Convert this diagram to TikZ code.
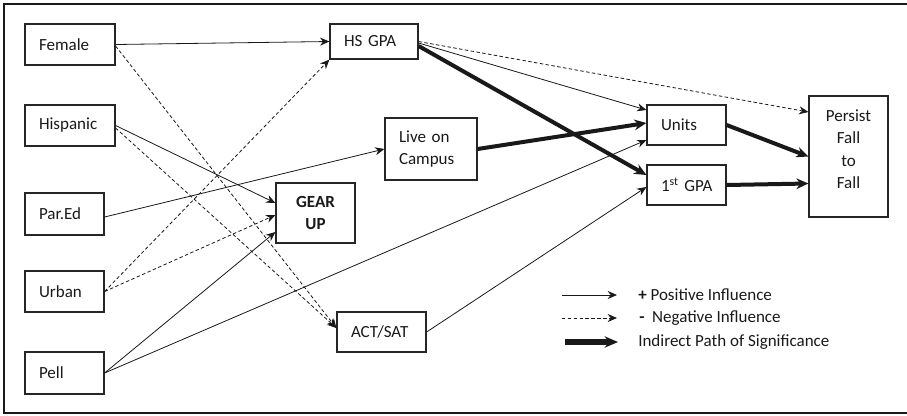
\documentclass[tikz,border=0pt]{standalone}
\usepackage{fontspec}
\setmainfont{Carlito}
\usetikzlibrary{arrows.meta,calc}
\begin{document}
\begin{tikzpicture}[x=0.75pt,y=-0.75pt,
  font=\fontsize{12.75}{16.9}\selectfont,
  every node/.style={text=black!90},
  lbox/.style={draw=black!85, line width=0.9pt, inner xsep=10.5pt, inner ysep=0pt, align=left, text width=#1},
  cbox/.style={draw=black!85, line width=0.9pt, inner sep=0pt, align=center},
  posarr/.style={draw=black!90, line width=0.6pt, -{Stealth[length=7pt,width=6pt]}},
  negarr/.style={posarr, dash pattern=on 2.6pt off 1.8pt},
  sigarr/.style={draw=black!90, line width=3pt, -{Stealth[length=9pt,width=8pt]}}
]
\useasboundingbox (0,0) rectangle (907,415);
\draw[line width=1.5pt, black!90] (912,3.5) -- (3.5,3.5) -- (3.5,412.5) -- (912,412.5);

% left column
\node[lbox=46.5pt, minimum height=30.75pt] (female)   at (70,44.5)   {Female};
\node[lbox=46.5pt, minimum height=30.75pt] (hispanic) at (70,125.5)  {Hispanic};
\node[lbox=38.25pt, minimum height=31.5pt] (pared)    at (64.5,214)  {Par.Ed};
\node[lbox=38.25pt, minimum height=30.75pt] (urban)   at (64.5,291.5){Urban};
\node[lbox=38.25pt, minimum height=31.5pt] (pell)     at (64.5,373)  {Pell};

% middle
\node[lbox=45pt, minimum height=26.25pt] (hsgpa) at (374,41.5) {HS~GPA};
\node[lbox=48pt, minimum height=46.5pt] (live) at (431,149) {Live on\\Campus};
\node[cbox, minimum width=59.25pt, minimum height=45pt, font=\fontsize{12.75}{16}\selectfont\bfseries] (gear) at (315.5,213) {GEAR\\UP};
\node[lbox=45.75pt, minimum height=30pt] (act) at (381.5,332) {ACT/SAT};

% right
\node[lbox=38.25pt, minimum height=30pt] (units) at (686.5,125) {Units};
\node[lbox=38.25pt, minimum height=30pt] (gpa1) at (686.5,185) {\mbox{1\textsuperscript{st}~GPA}};
\node[cbox, minimum width=59.25pt, minimum height=90.75pt] (persist) at (848.5,156.5) {};
\node[align=center, anchor=north, inner sep=0pt] (persisttxt) at ($(persist.north)+(0,14)$) {Persist\\Fall\\to\\Fall};

% connectors
\draw[posarr] (female.east) -- (hsgpa.west);
\draw[negarr] ($(female.east)+(0,1.5)$) -- ($(act.west)+(0,-4)$);
\draw[negarr] ($(hispanic.east)+(0,2.5)$) -- ($(act.west)+(0,-4)$);
\draw[posarr] (hispanic.east) -- ($(gear.west)+(0,-10)$);
\draw[posarr] ($(pared.east)+(0,3)$) -- (live.west);
\draw[negarr] (urban.east) -- (hsgpa.south west);
\draw[negarr] (urban.east) -- ($(gear.west)+(0,2)$);
\draw[posarr] (pell.east) -- ($(gear.west)+(0,19)$);
\draw[posarr] (pell.east) -- ($(units.west)+(0,15)$);
\draw[posarr] ($(hsgpa.east)+(0,1.5)$) -- ($(units.west)+(0,-15)$);
\draw[negarr] ($(hsgpa.east)+(0,0)$) -- ($(persist.west)+(0,-44.5)$);
\draw[sigarr] ($(hsgpa.east)+(0,4.5)$) -- ($(gpa1.west)+(0,-10)$);
\draw[sigarr] (live.east) -- ($(units.west)+(0,-2)$);
\draw[posarr] (act.east) -- ($(gpa1.west)+(0,2)$);
\draw[sigarr] (units.east) -- (persist.west);
\draw[sigarr] (gpa1.east) -- ($(persist.west)+(0,27)$);

% legend
\coordinate (l1a) at (562,295); \coordinate (l1b) at (617,295);
\coordinate (l2a) at (562,318); \coordinate (l2b) at (617,318);
\coordinate (l3a) at (565,342); \coordinate (l3b) at (618,342);
\draw[posarr] (l1a) -- (l1b);
\draw[negarr] (l2a) -- (l2b);
\draw[draw=black!90, line width=4pt, -{Stealth[length=10pt,width=8.5pt]}] (l3a) -- (l3b);
\node[anchor=west, inner sep=0pt] (t1) at (638,295) {\textbf{+} Positive Influence};
\node[anchor=west, inner sep=0pt] (t2) at (639,318) {\textbf{-}\hspace{0.45em}Negative Influence};
\node[anchor=west, inner sep=0pt] (t3) at (638,342) {Indirect Path of Significance};
\end{tikzpicture}
\end{document}
